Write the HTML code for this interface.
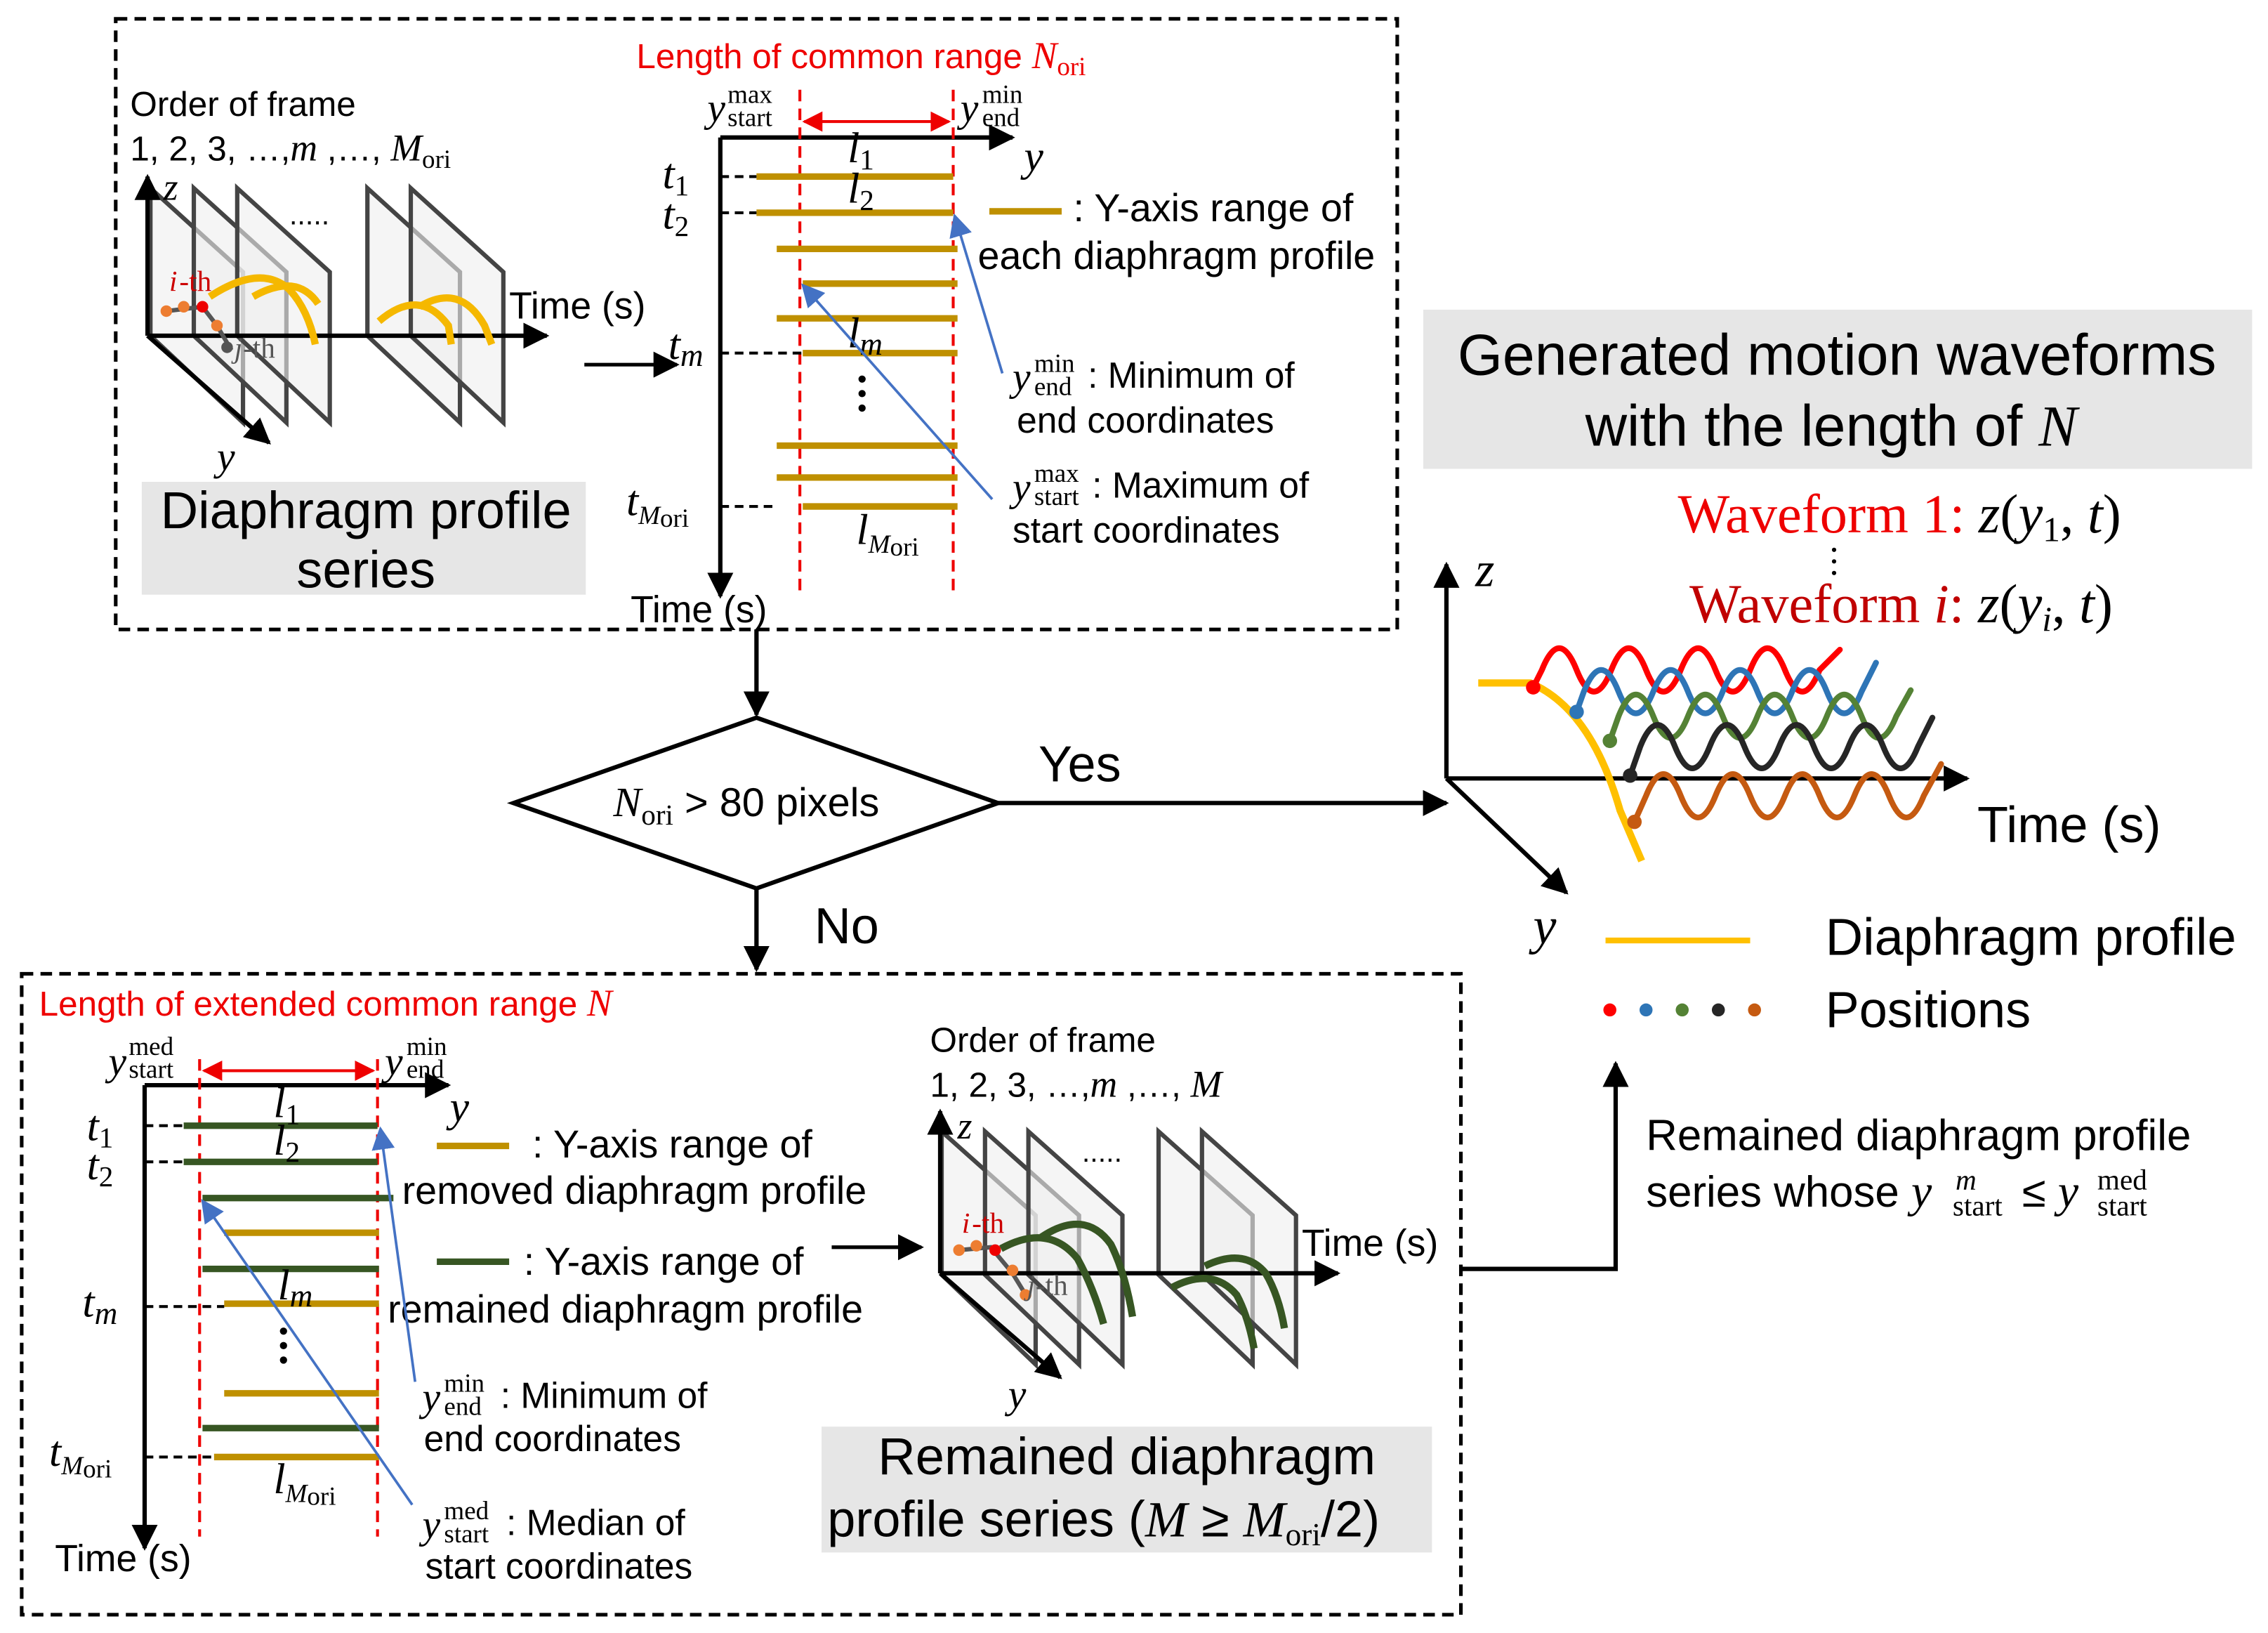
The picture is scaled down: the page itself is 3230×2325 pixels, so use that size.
<!DOCTYPE html>
<html><head><meta charset="utf-8"><style>
html,body{margin:0;padding:0;background:#fff}
svg{display:block}
text{font-family:"Liberation Sans",sans-serif;font-size:26px;fill:#000}
.m{font-family:"Liberation Serif",serif;font-style:italic}
.s{font-family:"Liberation Serif",serif;font-size:18px}
.r{fill:#e00}
</style></head><body>
<svg width="3230" height="2325" viewBox="0 0 1568 1128.6" xmlns="http://www.w3.org/2000/svg">
<defs>
<marker id="ab" viewBox="0 0 10 10" markerWidth="18" markerHeight="18" refX="9" refY="5" orient="auto" markerUnits="userSpaceOnUse"><path d="M0,0L10,5L0,10z" fill="#000"/></marker>
<marker id="ar" viewBox="0 0 10 10" markerWidth="14" markerHeight="14" refX="9" refY="5" orient="auto-start-reverse" markerUnits="userSpaceOnUse"><path d="M0,0L10,5L0,10z" fill="#e00"/></marker>
<marker id="abl" viewBox="0 0 10 10" markerWidth="16" markerHeight="16" refX="9" refY="5" orient="auto" markerUnits="userSpaceOnUse"><path d="M0,0L10,5L0,10z" fill="#4472c4"/></marker>
</defs>

<rect x="80" y="13" width="886" height="422" fill="none" stroke="#000" stroke-width="2.5" stroke-dasharray="8,5"/>

<g stroke="#444" stroke-width="3" fill="#eee" fill-opacity="0.6">
<polygon points="104,130 168,188 168,292 104,232"/>
<polygon points="134,130 198,188 198,292 134,232"/>
<polygon points="164,130 228,188 228,292 164,232"/>
<polygon points="254,130 318,188 318,292 254,232"/>
<polygon points="284,130 348,188 348,292 284,232"/>
</g>
<g stroke="#000" stroke-width="3" fill="none">
<line x1="102" y1="232" x2="102" y2="122" marker-end="url(#ab)"/>
<line x1="102" y1="232" x2="378" y2="232" marker-end="url(#ab)"/>
<line x1="102" y1="232" x2="186" y2="306" marker-end="url(#ab)"/>
</g>
<g stroke="#f5b800" stroke-width="5" fill="none">
<path d="M145,205 Q180,182 200,200 Q213,214 218,238"/>
<path d="M175,205 Q205,188 220,210"/>
<path d="M262,222 Q290,198 310,225 L312,238"/>
<path d="M290,212 Q318,195 335,225 L340,238"/>
</g>
<path d="M115,215 L140,212 L150,225 L160,242" stroke="#555" stroke-width="3" fill="none"/>
<g fill="#ed7d31"><circle cx="115" cy="215" r="4"/><circle cx="127" cy="212" r="4"/><circle cx="150" cy="225" r="4"/></g>
<circle cx="140" cy="212" r="4" fill="#e00"/><circle cx="157" cy="240" r="4" fill="#555"/>
<text x="117" y="201" class="m" style="fill:#c00;font-size:20px">i</text><text x="124" y="201" style="fill:#c00;font-size:20px;font-family:'Liberation Serif',serif">-th</text>
<text x="162" y="247" class="m" style="fill:#555;font-size:20px">j</text><text x="168" y="247" style="fill:#555;font-size:20px;font-family:'Liberation Serif',serif">-th</text>
<text x="90" y="80" style="font-size:24px">Order of frame</text>
<text x="90" y="111" style="font-size:24px">1, 2, 3, …,<tspan class="m" style="font-size:26px">m</tspan> ,…, <tspan class="m" style="font-size:26px">M</tspan><tspan class="s" dy="5">ori</tspan></text>
<text x="113" y="138" class="m" style="font-size:26px">z</text>
<text x="200" y="155" style="font-size:20px">.....</text>
<text x="352" y="220">Time (s)</text>
<text x="150" y="325" class="m" style="font-size:28px">y</text>
<rect x="98" y="333" width="307" height="78" fill="#e6e6e6"/>
<text x="253" y="365" text-anchor="middle" style="font-size:36px">Diaphragm profile</text>
<text x="253" y="406" text-anchor="middle" style="font-size:36px">series</text>
<line x1="404" y1="252" x2="468" y2="252" stroke="#000" stroke-width="2.5" marker-end="url(#ab)"/>

<text x="440" y="47" class="r" style="font-size:24px">Length of common range <tspan class="m" style="fill:#e00;font-size:26px">N</tspan><tspan class="s" style="fill:#e00" dy="5">ori</tspan></text>
<line x1="498" y1="95" x2="498" y2="412" stroke="#000" stroke-width="3" marker-end="url(#ab)"/>
<line x1="498" y1="95" x2="700" y2="95" stroke="#000" stroke-width="3" marker-end="url(#ab)"/>
<g stroke="#e00" stroke-width="2" stroke-dasharray="8,5"><line x1="553" y1="62" x2="553" y2="408"/><line x1="659" y1="62" x2="659" y2="408"/></g>
<line x1="556" y1="84" x2="656" y2="84" stroke="#e00" stroke-width="2" marker-start="url(#ar)" marker-end="url(#ar)"/>
<text x="489" y="84" class="m" style="font-size:28px">y</text><text x="503" y="71" class="s">max</text><text x="503" y="87" class="s">start</text>
<text x="664" y="84" class="m" style="font-size:28px">y</text><text x="679" y="71" class="s">min</text><text x="679" y="87" class="s">end</text>
<text x="708" y="118" class="m" style="font-size:30px">y</text>
<g stroke="#bf9000" stroke-width="4.5">
<line x1="523" y1="122" x2="659" y2="122"/><line x1="523" y1="147" x2="659" y2="147"/>
<line x1="537" y1="172" x2="662" y2="172"/><line x1="555" y1="196" x2="662" y2="196"/>
<line x1="537" y1="220" x2="662" y2="220"/><line x1="555" y1="244" x2="662" y2="244"/>
<line x1="537" y1="308" x2="662" y2="308"/><line x1="537" y1="330" x2="662" y2="330"/>
<line x1="555" y1="350" x2="662" y2="350"/>
<line x1="684" y1="146" x2="734" y2="146"/>
</g>
<g stroke="#000" stroke-width="2" stroke-dasharray="6,4">
<line x1="498" y1="122" x2="523" y2="122"/><line x1="498" y1="147" x2="523" y2="147"/>
<line x1="498" y1="244" x2="555" y2="244"/><line x1="498" y1="350" x2="537" y2="350"/>
</g>
<text x="458" y="130" class="m" style="font-size:30px">t<tspan class="s" style="font-style:normal;font-size:20px" dy="5">1</tspan></text>
<text x="458" y="158" class="m" style="font-size:30px">t<tspan class="s" style="font-style:normal;font-size:20px" dy="5">2</tspan></text>
<text x="462" y="248" class="m" style="font-size:30px">t<tspan class="s" style="font-size:22px" dy="5">m</tspan></text>
<text x="433" y="356" class="m" style="font-size:30px">t<tspan class="s" dy="6">M</tspan><tspan class="s" style="font-style:normal" dy="2">ori</tspan></text>
<text x="586" y="112" class="m" style="font-size:30px">l<tspan class="s" style="font-style:normal;font-size:20px" dy="5">1</tspan></text>
<text x="586" y="140" class="m" style="font-size:30px">l<tspan class="s" style="font-style:normal;font-size:20px" dy="5">2</tspan></text>
<text x="586" y="240" class="m" style="font-size:30px">l<tspan class="s" style="font-size:22px" dy="5">m</tspan></text>
<text x="592" y="376" class="m" style="font-size:30px">l<tspan class="s" dy="6">M</tspan><tspan class="s" style="font-style:normal" dy="2">ori</tspan></text>
<g fill="#000"><circle cx="596" cy="262" r="2.5"/><circle cx="596" cy="272" r="2.5"/><circle cx="596" cy="282" r="2.5"/></g>
<text x="742" y="153" style="font-size:27px">: Y-axis range of</text>
<text x="676" y="186" style="font-size:27px">each diaphragm profile</text>
<g stroke="#4472c4" stroke-width="1.8"><line x1="693" y1="258" x2="660" y2="149" marker-end="url(#abl)"/><line x1="686" y1="345" x2="555" y2="197" marker-end="url(#abl)"/></g>
<text x="700" y="270" class="m" style="font-size:28px">y</text><text x="715" y="257" class="s">min</text><text x="715" y="273" class="s">end</text><text x="752" y="268" style="font-size:25px">: Minimum of</text>
<text x="703" y="299" style="font-size:25px">end coordinates</text>
<text x="700" y="346" class="m" style="font-size:28px">y</text><text x="715" y="333" class="s">max</text><text x="715" y="349" class="s">start</text><text x="755" y="344" style="font-size:25px">: Maximum of</text>
<text x="700" y="375" style="font-size:25px">start coordinates</text>
<text x="436" y="430">Time (s)</text>

<line x1="523" y1="435" x2="523" y2="494" stroke="#000" stroke-width="3" marker-end="url(#ab)"/>
<polygon points="523,496 690,555 523,614 355,555" fill="#fff" stroke="#000" stroke-width="3"/>
<text x="424" y="564" class="m" style="font-size:29px">N<tspan class="s" style="font-style:normal;font-size:20px" dy="6">ori</tspan><tspan style="font-family:'Liberation Sans';font-style:normal;font-size:28px" dy="-6"> &gt; 80 pixels</tspan></text>
<line x1="690" y1="555" x2="1000" y2="555" stroke="#000" stroke-width="3" marker-end="url(#ab)"/>
<text x="718" y="540" style="font-size:35px">Yes</text>
<line x1="523" y1="614" x2="523" y2="670" stroke="#000" stroke-width="3" marker-end="url(#ab)"/>
<text x="563" y="652" style="font-size:35px">No</text>

<rect x="984" y="214" width="573" height="110" fill="#e6e6e6"/>
<text x="1270" y="259" text-anchor="middle" style="font-size:40px">Generated motion waveforms</text>
<text x="1266" y="308" text-anchor="middle" style="font-size:40px">with the length of <tspan class="m" style="font-size:40px">N</tspan></text>
<text x="1160" y="368" style="font-family:'Liberation Serif',serif;font-size:38px;fill:#e00">Waveform 1: <tspan class="m" style="fill:#000">z</tspan><tspan style="fill:#000">(</tspan><tspan class="m" style="fill:#000">y</tspan><tspan style="fill:#000;font-size:24px" dy="6">1</tspan><tspan style="fill:#000" dy="-6">, </tspan><tspan class="m" style="fill:#000">t</tspan><tspan style="fill:#000">)</tspan></text>
<g fill="#000"><circle cx="1268" cy="380" r="1.5"/><circle cx="1268" cy="388" r="1.5"/><circle cx="1268" cy="396" r="1.5"/></g>
<text x="1168" y="430" style="font-family:'Liberation Serif',serif;font-size:38px;fill:#c00000">Waveform <tspan class="m">i</tspan>: <tspan class="m" style="fill:#000">z</tspan><tspan style="fill:#000">(</tspan><tspan class="m" style="fill:#000">y</tspan><tspan class="m" style="fill:#000;font-size:24px" dy="6">i</tspan><tspan style="fill:#000" dy="-6">, </tspan><tspan class="m" style="fill:#000">t</tspan><tspan style="fill:#000">)</tspan></text>
<g stroke="#000" stroke-width="3" fill="none">
<line x1="1000" y1="538" x2="1000" y2="390" marker-end="url(#ab)"/>
<line x1="1000" y1="538" x2="1360" y2="538" marker-end="url(#ab)"/>
<line x1="1000" y1="538" x2="1083" y2="617" marker-end="url(#ab)"/>
</g>
<text x="1020" y="405" class="m" style="font-size:34px">z</text>
<text x="1367" y="582" style="font-size:35px">Time (s)</text>
<text x="1060" y="652" class="m" style="font-size:36px">y</text>
<path d="M1022,472 L1058,472 Q1100,490 1120,560 L1135,595" stroke="#ffc000" stroke-width="5" fill="none"/>
<g fill="none" stroke-width="4" stroke-linecap="round">
<path d="M1060,475 L1066,463 q12,-30 24,0 t24,0 t24,0 t24,0 t24,0 t24,0 t24,0 t24,0 l14,-14" stroke="#ff0000"/>
<path d="M1090,492 L1095,478 q12,-30 24,0 t24,0 t24,0 t24,0 t24,0 t24,0 t24,0 t24,0 l10,-20" stroke="#2e75b6"/>
<path d="M1113,512 L1119,495 q12,-30 24,0 t24,0 t24,0 t24,0 t24,0 t24,0 t24,0 t24,0 l10,-18" stroke="#548235"/>
<path d="M1127,536 L1134,516 q12,-30 24,0 t24,0 t24,0 t24,0 t24,0 t24,0 t24,0 t24,0 l10,-20" stroke="#262626"/>
<path d="M1130,568 L1138,550 q12,-30 24,0 t24,0 t24,0 t24,0 t24,0 t24,0 t24,0 t24,0 l12,-22" stroke="#c55a11"/>
</g>
<circle cx="1060" cy="475" r="5" fill="#ff0000"/><circle cx="1090" cy="492" r="5" fill="#2e75b6"/><circle cx="1113" cy="512" r="5" fill="#548235"/><circle cx="1127" cy="536" r="5" fill="#262626"/><circle cx="1130" cy="568" r="5" fill="#c55a11"/>
<line x1="1110" y1="650" x2="1210" y2="650" stroke="#ffc000" stroke-width="4"/>
<text x="1262" y="660" style="font-size:36px">Diaphragm profile</text>
<circle cx="1113" cy="698" r="4.5" fill="#ff0000"/><circle cx="1138" cy="698" r="4.5" fill="#2e75b6"/><circle cx="1163" cy="698" r="4.5" fill="#548235"/><circle cx="1188" cy="698" r="4.5" fill="#262626"/><circle cx="1213" cy="698" r="4.5" fill="#c55a11"/>
<text x="1262" y="710" style="font-size:35px">Positions</text>
<polyline points="1010,877 1117,877 1117,735" fill="none" stroke="#000" stroke-width="3" marker-end="url(#ab)"/>
<text x="1138" y="795" style="font-size:30px">Remained diaphragm profile</text>
<text x="1138" y="834" style="font-size:30px">series whose <tspan class="m" style="font-size:32px">y</tspan></text>
<text x="1352" y="822" class="s" style="font-style:italic;font-size:20px">m</text><text x="1350" y="840" class="s" style="font-size:20px">start</text>
<text x="1398" y="834" style="font-size:30px">≤ <tspan class="m" style="font-size:32px">y</tspan></text>
<text x="1450" y="822" class="s" style="font-size:20px">med</text><text x="1450" y="840" class="s" style="font-size:20px">start</text>

<rect x="15" y="673" width="995" height="443" fill="none" stroke="#000" stroke-width="2.5" stroke-dasharray="8,5"/>
<text x="27" y="702" class="r" style="font-size:24px">Length of extended common range <tspan class="m" style="fill:#e00;font-size:26px">N</tspan></text>
<line x1="100" y1="750" x2="100" y2="1070" stroke="#000" stroke-width="3" marker-end="url(#ab)"/>
<line x1="100" y1="750" x2="310" y2="750" stroke="#000" stroke-width="3" marker-end="url(#ab)"/>
<g stroke="#e00" stroke-width="2" stroke-dasharray="8,5"><line x1="138" y1="732" x2="138" y2="1062"/><line x1="261" y1="732" x2="261" y2="1062"/></g>
<line x1="141" y1="740" x2="258" y2="740" stroke="#e00" stroke-width="2" marker-start="url(#ar)" marker-end="url(#ar)"/>
<text x="75" y="743" class="m" style="font-size:28px">y</text><text x="89" y="729" class="s">med</text><text x="89" y="745" class="s">start</text>
<text x="266" y="743" class="m" style="font-size:28px">y</text><text x="281" y="729" class="s">min</text><text x="281" y="745" class="s">end</text>
<text x="311" y="775" class="m" style="font-size:30px">y</text>
<g stroke-width="4.5">
<line x1="127" y1="778" x2="261" y2="778" stroke="#375623"/><line x1="127" y1="803" x2="261" y2="803" stroke="#375623"/>
<line x1="140" y1="828" x2="272" y2="828" stroke="#375623"/><line x1="155" y1="852" x2="262" y2="852" stroke="#bf9000"/>
<line x1="140" y1="877" x2="262" y2="877" stroke="#375623"/><line x1="155" y1="901" x2="262" y2="901" stroke="#bf9000"/>
<line x1="155" y1="963" x2="262" y2="963" stroke="#bf9000"/><line x1="140" y1="987" x2="262" y2="987" stroke="#375623"/>
<line x1="148" y1="1007" x2="262" y2="1007" stroke="#bf9000"/>
<line x1="302" y1="792" x2="352" y2="792" stroke="#bf9000"/><line x1="302" y1="872" x2="352" y2="872" stroke="#375623"/>
</g>
<g stroke="#000" stroke-width="2" stroke-dasharray="6,4">
<line x1="100" y1="778" x2="127" y2="778"/><line x1="100" y1="803" x2="127" y2="803"/>
<line x1="100" y1="903" x2="155" y2="903"/><line x1="100" y1="1007" x2="148" y2="1007"/>
</g>
<text x="60" y="788" class="m" style="font-size:30px">t<tspan class="s" style="font-style:normal;font-size:20px" dy="5">1</tspan></text>
<text x="60" y="815" class="m" style="font-size:30px">t<tspan class="s" style="font-style:normal;font-size:20px" dy="5">2</tspan></text>
<text x="57" y="910" class="m" style="font-size:30px">t<tspan class="s" style="font-size:22px" dy="5">m</tspan></text>
<text x="34" y="1013" class="m" style="font-size:30px">t<tspan class="s" dy="6">M</tspan><tspan class="s" style="font-style:normal" dy="2">ori</tspan></text>
<text x="189" y="772" class="m" style="font-size:30px">l<tspan class="s" style="font-style:normal;font-size:20px" dy="5">1</tspan></text>
<text x="189" y="798" class="m" style="font-size:30px">l<tspan class="s" style="font-style:normal;font-size:20px" dy="5">2</tspan></text>
<text x="192" y="898" class="m" style="font-size:30px">l<tspan class="s" style="font-size:22px" dy="5">m</tspan></text>
<text x="189" y="1032" class="m" style="font-size:30px">l<tspan class="s" dy="6">M</tspan><tspan class="s" style="font-style:normal" dy="2">ori</tspan></text>
<g fill="#000"><circle cx="196" cy="920" r="2.5"/><circle cx="196" cy="930" r="2.5"/><circle cx="196" cy="940" r="2.5"/></g>
<text x="368" y="800" style="font-size:27px">: Y-axis range of</text>
<text x="278" y="832" style="font-size:27px">removed diaphragm profile</text>
<text x="362" y="881" style="font-size:27px">: Y-axis range of</text>
<text x="268" y="914" style="font-size:27px">remained diaphragm profile</text>
<g stroke="#4472c4" stroke-width="1.8"><line x1="287" y1="955" x2="263" y2="780" marker-end="url(#abl)"/><line x1="285" y1="1040" x2="140" y2="830" marker-end="url(#abl)"/></g>
<text x="292" y="975" class="m" style="font-size:28px">y</text><text x="307" y="962" class="s">min</text><text x="307" y="978" class="s">end</text><text x="346" y="973" style="font-size:25px">: Minimum of</text>
<text x="293" y="1003" style="font-size:25px">end coordinates</text>
<text x="292" y="1063" class="m" style="font-size:28px">y</text><text x="307" y="1050" class="s">med</text><text x="307" y="1066" class="s">start</text><text x="350" y="1061" style="font-size:25px">: Median of</text>
<text x="294" y="1091" style="font-size:25px">start coordinates</text>
<text x="38" y="1086">Time (s)</text>
<line x1="575" y1="862" x2="637" y2="862" stroke="#000" stroke-width="2.5" marker-end="url(#ab)"/>

<g stroke="#444" stroke-width="3" fill="#eee" fill-opacity="0.6">
<polygon points="651,782 716,840 716,943 651,881"/>
<polygon points="681,782 746,840 746,943 681,881"/>
<polygon points="711,782 776,840 776,943 711,881"/>
<polygon points="801,782 866,840 866,943 801,881"/>
<polygon points="831,782 896,840 896,943 831,881"/>
</g>
<g stroke="#000" stroke-width="3" fill="none">
<line x1="650" y1="880" x2="650" y2="768" marker-end="url(#ab)"/>
<line x1="650" y1="880" x2="925" y2="880" marker-end="url(#ab)"/>
<line x1="650" y1="880" x2="733" y2="952" marker-end="url(#ab)"/>
</g>
<g stroke="#375623" stroke-width="5" fill="none">
<path d="M692,863 Q725,845 745,870 Q756,890 763,915"/>
<path d="M720,855 Q750,835 768,860 Q778,880 783,910"/>
<path d="M810,890 Q838,875 855,895 Q863,910 867,932"/>
<path d="M833,875 Q860,862 875,880 Q884,895 888,918"/>
</g>
<path d="M663,864 L685,862 L700,880 L708,893" stroke="#555" stroke-width="3" fill="none"/>
<g fill="#ed7d31"><circle cx="663" cy="864" r="4"/><circle cx="675" cy="861" r="4"/><circle cx="700" cy="878" r="4"/><circle cx="709" cy="895" r="4"/></g>
<circle cx="688" cy="864" r="4" fill="#e00"/>
<text x="665" y="852" class="m" style="fill:#c00;font-size:20px">i</text><text x="672" y="852" style="fill:#c00;font-size:20px;font-family:'Liberation Serif',serif">-th</text>
<text x="710" y="895" class="m" style="fill:#555;font-size:20px">j</text><text x="716" y="895" style="fill:#555;font-size:20px;font-family:'Liberation Serif',serif">-th</text>
<text x="643" y="727" style="font-size:24px">Order of frame</text>
<text x="643" y="758" style="font-size:24px">1, 2, 3, …,<tspan class="m" style="font-size:26px">m</tspan> ,…, <tspan class="m" style="font-size:26px">M</tspan></text>
<text x="662" y="787" class="m">z</text>
<text x="748" y="803" style="font-size:20px">.....</text>
<text x="900" y="868">Time (s)</text>
<text x="697" y="973" class="m" style="font-size:28px">y</text>
<rect x="568" y="986" width="422" height="87" fill="#e6e6e6"/>
<text x="779" y="1019" text-anchor="middle" style="font-size:36px">Remained diaphragm</text>
<text x="572" y="1062" style="font-size:35px">profile series (<tspan class="m" style="font-size:35px">M</tspan> ≥ <tspan class="m" style="font-size:35px">M</tspan><tspan class="s" style="font-size:22px" dy="6">ori</tspan><tspan dy="-6" style="font-size:35px">/2)</tspan></text>
</svg>
</body></html>
